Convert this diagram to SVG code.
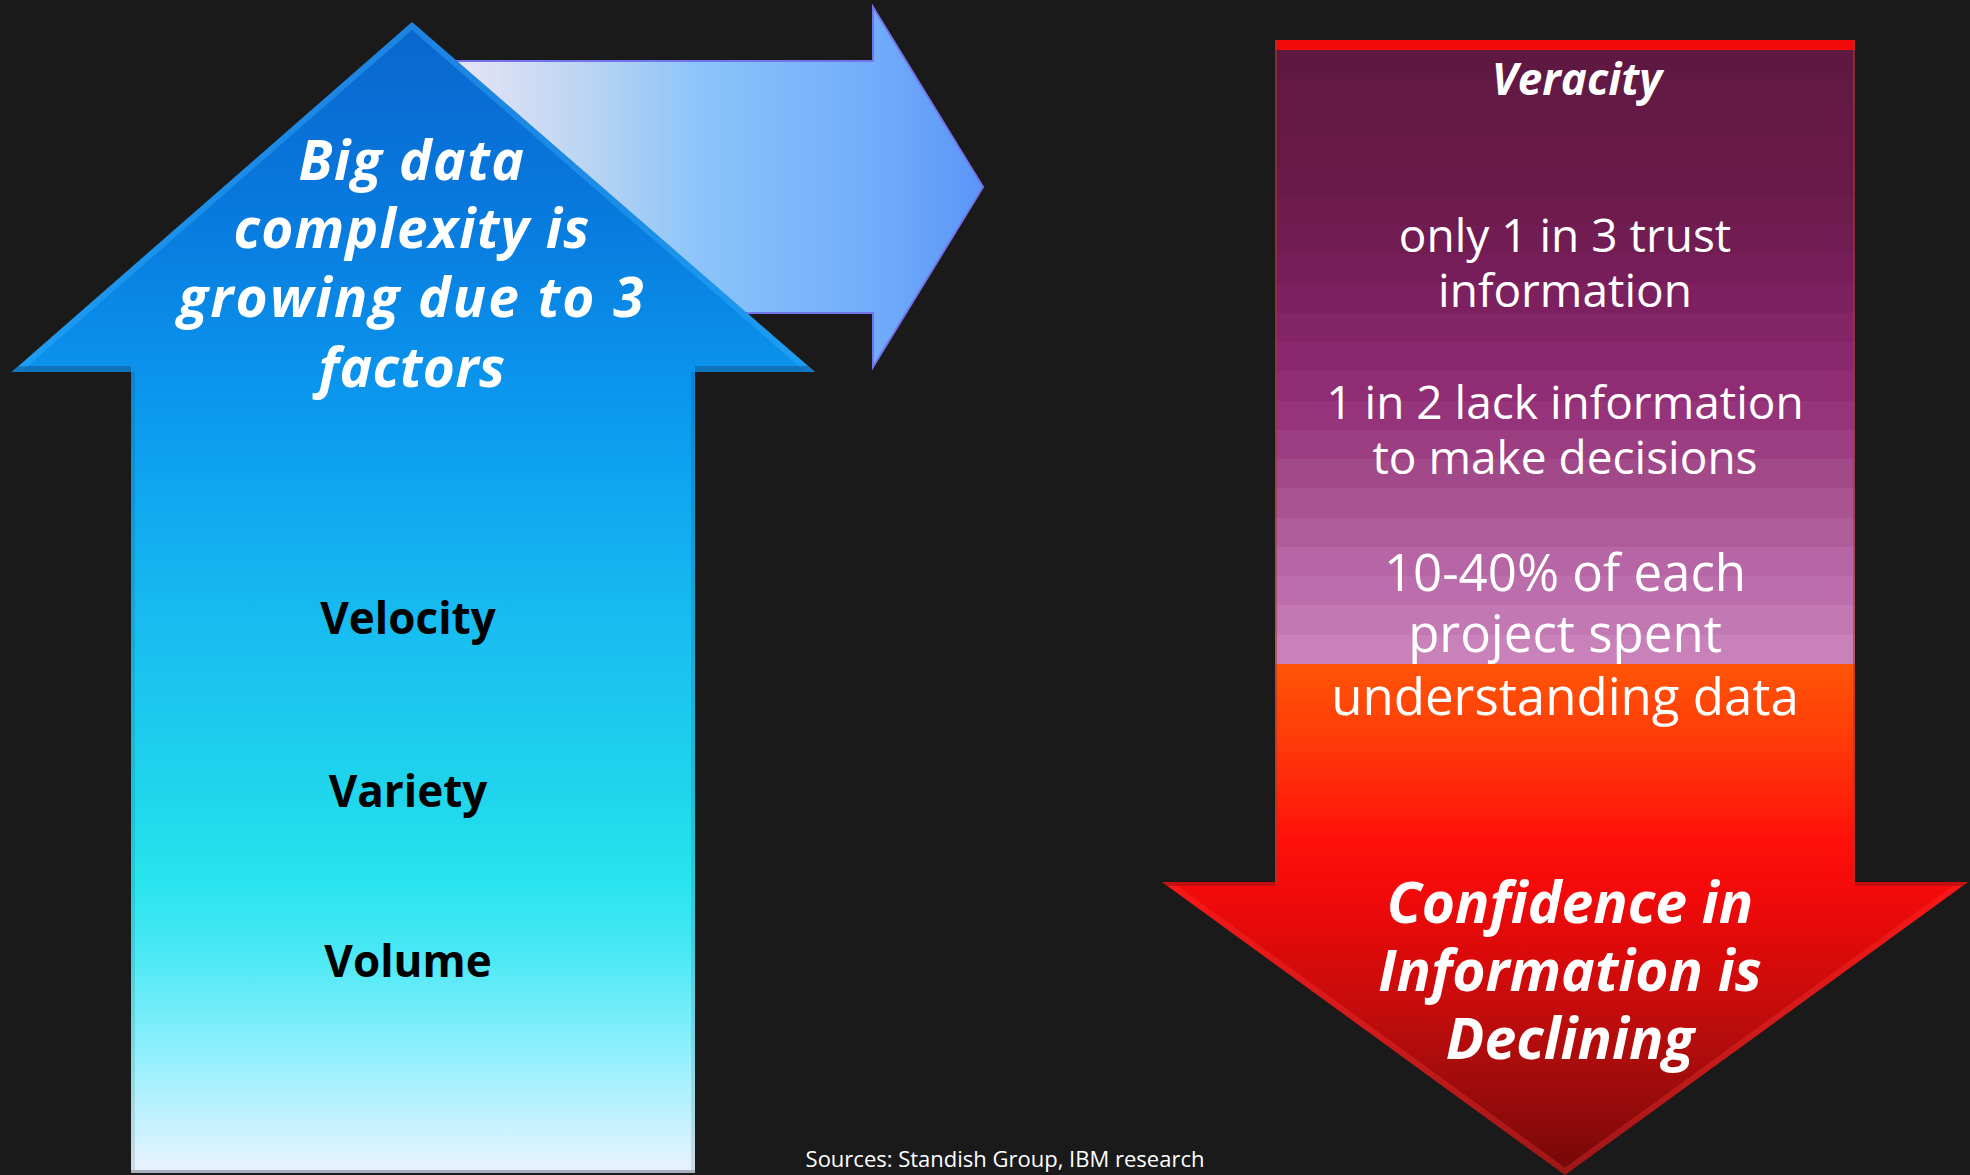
<svg xmlns="http://www.w3.org/2000/svg" width="1970" height="1175" viewBox="0 0 1970 1175">
<defs>
<style>
.bi{font-family:"Open Sans","Noto Sans","DejaVu Sans",sans-serif;font-weight:700;font-style:italic;fill:#ffffff;text-anchor:middle}
.bk{font-family:"Open Sans","Noto Sans","DejaVu Sans",sans-serif;font-weight:700;fill:#000000;text-anchor:middle;font-size:44px}
.rg{font-family:"Open Sans","Noto Sans","DejaVu Sans",sans-serif;font-weight:400;fill:#ffffff;text-anchor:middle}
</style>
<linearGradient id="gUp" gradientUnits="userSpaceOnUse" x1="0" y1="22" x2="0" y2="1175">
<stop offset="0" stop-color="#0a66cf"/>
<stop offset="0.155" stop-color="#0878dc"/>
<stop offset="0.30" stop-color="#0a92ec"/>
<stop offset="0.415" stop-color="#10a8f0"/>
<stop offset="0.52" stop-color="#18bcf0"/>
<stop offset="0.675" stop-color="#20d6ec"/>
<stop offset="0.745" stop-color="#28e4ee"/>
<stop offset="0.805" stop-color="#48e8f4"/>
<stop offset="0.875" stop-color="#80eefc"/>
<stop offset="0.935" stop-color="#b4f2fe"/>
<stop offset="1" stop-color="#ecf2ff"/>
</linearGradient>
<linearGradient id="gRight" gradientUnits="userSpaceOnUse" x1="440" y1="0" x2="983" y2="0">
<stop offset="0" stop-color="#eee6f6"/>
<stop offset="0.28" stop-color="#b8d4f2"/>
<stop offset="0.48" stop-color="#8cc4fa"/>
<stop offset="0.8" stop-color="#72acfa"/>
<stop offset="1" stop-color="#5a96f8"/>
</linearGradient>
<linearGradient id="gRed" gradientUnits="userSpaceOnUse" x1="0" y1="664" x2="0" y2="1175">
<stop offset="0" stop-color="#ff5508"/>
<stop offset="0.11" stop-color="#ff4208"/>
<stop offset="0.23" stop-color="#ff2a0a"/>
<stop offset="0.345" stop-color="#ff100a"/>
<stop offset="0.44" stop-color="#f40a0a"/>
<stop offset="0.56" stop-color="#dc0a0a"/>
<stop offset="0.675" stop-color="#c40c0c"/>
<stop offset="0.79" stop-color="#a80c0c"/>
<stop offset="0.905" stop-color="#8c0a0a"/>
<stop offset="1" stop-color="#720808"/>
</linearGradient>
<clipPath id="cUp"><path d="M412,22 L815,372 H695 V1173 H131 V372 H11.7 Z"/></clipPath>
<clipPath id="cDown"><path d="M1275,40 H1855 V882 H1968 L1565,1175 L1162,882 H1275 Z"/></clipPath>
</defs>
<rect x="0" y="0" width="1970" height="1175" fill="#1a1a1a"/>

<g id="connectors">
<path d="M412,61 H873 V7 L983,187 L873,367 V313 H412 Z" fill="url(#gRight)" stroke="#7474ea" stroke-width="2"/>
</g>

<g id="up-arrow">
<path d="M412,22 L815,372 H695 V1173 H131 V372 H11.7 Z" fill="url(#gUp)"/>
<g clip-path="url(#cUp)" fill="none">
<path d="M11.7,372 L412,22 L815,372" stroke="#3ab0fb" stroke-opacity="0.4" stroke-width="12"/>
<path d="M11.7,372 H131 M695,372 H815" stroke="#135f9c" stroke-opacity="0.6" stroke-width="12"/>
<path d="M131,372 V1173 M695,372 V1173" stroke="#000000" stroke-opacity="0.1" stroke-width="8"/>
<path d="M131,1173 H695" stroke="#a8b0c0" stroke-width="6"/>
</g>
<text class="bi" font-size="55" letter-spacing="1.5" x="412" y="180">Big data</text>
<text class="bi" font-size="55" letter-spacing="1.2" x="412" y="248">complexity is</text>
<text class="bi" font-size="55" letter-spacing="2.2" x="412" y="317">growing due to 3</text>
<text class="bi" font-size="55" letter-spacing="0.5" x="412" y="387">factors</text>
<text class="bk" x="408" y="634">Velocity</text>
<text class="bk" x="408" y="807">Variety</text>
<text class="bk" x="408" y="977">Volume</text>
</g>

<g id="down-arrow">
<path d="M1275,40 H1855 V882 H1968 L1565,1175 L1162,882 H1275 Z" fill="url(#gRed)"/>
<g id="veracity-bands">
<rect x="1275" y="50" width="580" height="30" fill="#5f1841"/>
<rect x="1275" y="79" width="580" height="30" fill="#621944"/>
<rect x="1275" y="108" width="580" height="31" fill="#651946"/>
<rect x="1275" y="138" width="580" height="30" fill="#681948"/>
<rect x="1275" y="167" width="580" height="30" fill="#6a1a4a"/>
<rect x="1275" y="196" width="580" height="30" fill="#6e1b4e"/>
<rect x="1275" y="225" width="580" height="30" fill="#721c54"/>
<rect x="1275" y="254" width="580" height="31" fill="#771e5a"/>
<rect x="1275" y="284" width="580" height="30" fill="#7c2060"/>
<rect x="1275" y="313" width="580" height="30" fill="#822466"/>
<rect x="1275" y="342" width="580" height="30" fill="#89286d"/>
<rect x="1275" y="371" width="580" height="31" fill="#8f2c73"/>
<rect x="1275" y="401" width="580" height="30" fill="#95347a"/>
<rect x="1275" y="430" width="580" height="30" fill="#9c3e81"/>
<rect x="1275" y="459" width="580" height="30" fill="#a24989"/>
<rect x="1275" y="488" width="580" height="31" fill="#a95391"/>
<rect x="1275" y="518" width="580" height="30" fill="#af5c9b"/>
<rect x="1275" y="547" width="580" height="30" fill="#b666a4"/>
<rect x="1275" y="576" width="580" height="30" fill="#bc6dac"/>
<rect x="1275" y="605" width="580" height="31" fill="#c278b2"/>
<rect x="1275" y="635" width="580" height="29" fill="#c982b9"/>
</g>
<rect x="1275" y="40" width="580" height="10" fill="#f20a0a"/>
<g clip-path="url(#cDown)" fill="none">
<path d="M1162,882 L1565,1175 L1968,882" stroke="#ff3a3a" stroke-opacity="0.3" stroke-width="12"/>
<path d="M1162,882 H1275 M1855,882 H1968" stroke="#a01010" stroke-opacity="0.6" stroke-width="8"/>
<path d="M1275,40 V882 M1855,40 V882" stroke="#a03a2a" stroke-opacity="0.6" stroke-width="4"/>
</g>
<text class="bi" font-size="44" x="1577" y="95">Veracity</text>
<text class="rg" font-size="46" x="1565" y="252">only 1 in 3 trust</text>
<text class="rg" font-size="46" x="1565" y="307">information</text>
<text class="rg" font-size="46" x="1565" y="419">1 in 2 lack information</text>
<text class="rg" font-size="46" x="1565" y="474">to make decisions</text>
<text class="rg" font-size="51" x="1565" y="591">10-40% of each</text>
<text class="rg" font-size="51" x="1565" y="652">project spent</text>
<text class="rg" font-size="51" x="1565" y="715">understanding data</text>
<text class="bi" font-size="57" x="1570" y="923">Confidence in</text>
<text class="bi" font-size="57" x="1570" y="991">Information is</text>
<text class="bi" font-size="57" x="1570" y="1059">Declining</text>
</g>

<g id="sources">
<text class="rg" font-size="22" fill="#ececec" x="1005" y="1167">Sources: Standish Group, IBM research</text>
</g>
</svg>
